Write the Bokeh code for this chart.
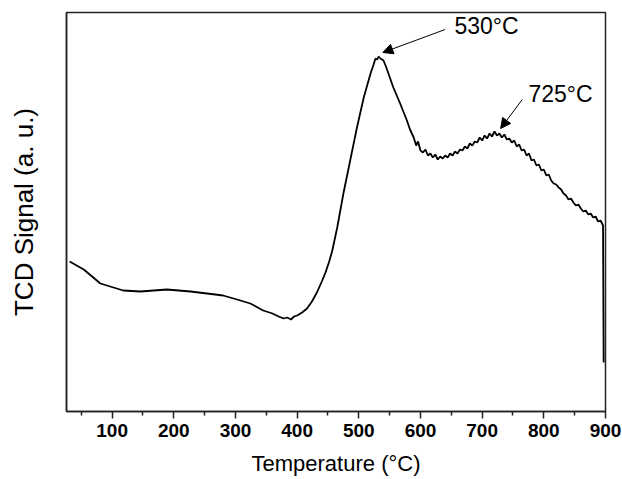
from bokeh.plotting import figure
from bokeh.models import Range1d, FixedTicker, Arrow, NormalHead, Label
from bokeh.embed import file_html
from bokeh.resources import INLINE

# Temperature (°C) and TCD signal (a.u.)
temperature = [31, 54, 81, 118, 146, 189, 227, 254, 280, 308, 324, 345, 360, 370, 378, 384,
               390, 395, 400, 408, 416, 424, 432, 440, 446, 452, 457, 465, 475, 486, 497, 508,
               519, 524, 527, 530, 532, 535, 540, 544, 548, 556, 567, 578, 583, 589, 593, 596,
               600, 604, 608, 612, 616, 620, 624, 628, 632, 636, 640, 644, 648, 652, 656, 660,
               664, 668, 672, 676, 680, 684, 688, 692, 696, 700, 704, 708, 712, 716, 720, 724,
               728, 732, 736, 740, 744, 748, 752, 756, 760, 764, 768, 772, 776, 780, 784, 788,
               792, 796, 800, 804, 808, 812, 816, 820, 824, 828, 832, 836, 840, 844, 848, 852,
               856, 860, 864, 868, 872, 876, 880, 884, 888, 892, 896, 897]
signal = [150, 142, 128, 121, 120, 122, 120, 118, 116, 111, 108, 101, 98, 95, 93, 94,
          92, 95, 96, 99, 103, 110, 119, 130, 139, 150, 161, 184, 218, 251, 284, 314,
          338, 347, 353, 352, 355, 353, 351, 345, 338, 324, 308, 291, 282, 274, 266, 270,
          261, 259, 262, 256, 258, 254, 257, 252, 255, 253, 256, 254, 258, 256, 260, 258,
          262, 261, 265, 263, 268, 266, 270, 269, 274, 271, 276, 273, 278, 275, 280, 276,
          278, 274, 277, 272, 273, 269, 271, 265, 267, 261, 262, 256, 258, 251, 252, 246,
          247, 241, 242, 236, 237, 231, 228, 227, 224, 222, 218, 216, 212, 213, 209, 206,
          207, 203, 200, 201, 197, 198, 194, 195, 190, 191, 186, 49]

peak_labels = ["530°C", "725°C"]

p = figure(width=622, height=479, x_range=Range1d(26, 900), y_range=Range1d(0, 399),
           toolbar_location=None, output_backend="svg",
           min_border_left=66, min_border_right=17, min_border_top=12, min_border_bottom=68)

p.line(temperature, signal, line_color="black", line_width=1.8)

p.xgrid.visible = False
p.ygrid.visible = False
p.outline_line_color = "#222222"
p.outline_line_width = 1.5
p.background_fill_color = "white"
p.border_fill_color = "white"

xa = p.xaxis[0]
xa.ticker = FixedTicker(ticks=[100, 200, 300, 400, 500, 600, 700, 800, 900],
                        minor_ticks=[50, 150, 250, 350, 450, 550, 650, 750, 850])
xa.axis_label = "Temperature (°C)"
xa.axis_label_text_font = "Liberation Sans"
xa.axis_label_text_font_style = "normal"
xa.axis_label_text_font_size = "22px"
xa.axis_label_text_color = "black"
xa.axis_label_standoff = 11
xa.major_label_text_font = "Liberation Sans"
xa.major_label_text_font_style = "bold"
xa.major_label_text_font_size = "19px"
xa.major_label_text_color = "black"
xa.major_label_standoff = 5
xa.major_tick_out = 7
xa.major_tick_in = 0
xa.minor_tick_out = 4
xa.minor_tick_in = 0
xa.axis_line_color = "#222222"
xa.axis_line_width = 1.5
xa.major_tick_line_color = "#222222"
xa.major_tick_line_width = 1.5
xa.minor_tick_line_color = "#222222"
xa.minor_tick_line_width = 1.5

ya = p.yaxis[0]
ya.ticker = FixedTicker(ticks=[])
ya.axis_label = "TCD Signal (a. u.)"
ya.axis_label_text_font = "Liberation Sans"
ya.axis_label_text_font_style = "normal"
ya.axis_label_text_font_size = "26px"
ya.axis_label_text_color = "black"
ya.axis_label_standoff = 28
ya.major_tick_out = 0
ya.minor_tick_out = 0
ya.axis_line_color = "#222222"
ya.axis_line_width = 1.5

# annotations
p.add_layout(Arrow(end=NormalHead(size=10, fill_color="black", line_color="black"),
                   x_start=640, y_start=382, x_end=539, y_end=359,
                   line_color="black", line_width=1))
p.add_layout(Arrow(end=NormalHead(size=10, fill_color="black", line_color="black"),
                   x_start=765, y_start=312, x_end=730, y_end=283,
                   line_color="black", line_width=1))
p.add_layout(Label(x=655, y=386, text=peak_labels[0], text_font="Liberation Sans",
                   text_font_size="23px", text_baseline="middle", text_align="left",
                   text_color="black"))
p.add_layout(Label(x=775, y=318, text=peak_labels[1], text_font="Liberation Sans",
                   text_font_size="23px", text_baseline="middle", text_align="left",
                   text_color="black"))

open("out.html", "w").write(file_html(p, INLINE))
